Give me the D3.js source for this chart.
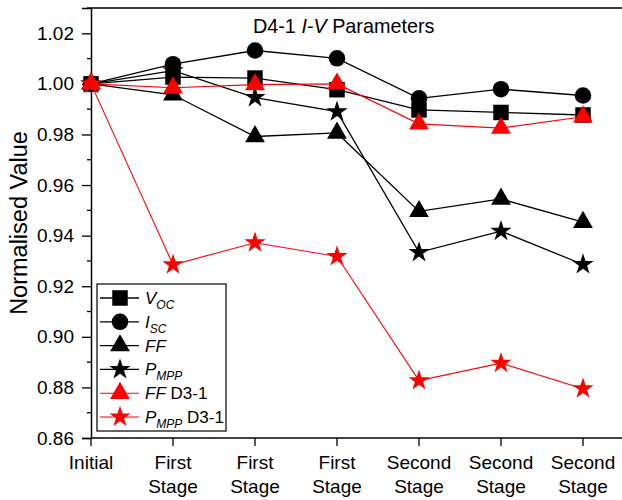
<!DOCTYPE html>
<html>
<head>
<meta charset="utf-8">
<script src="https://cdn.jsdelivr.net/npm/d3@7"></script>
<style>
  body { margin: 0; background: #fff; }
  text { font-family: "Liberation Sans", Arial, sans-serif; }
</style>
</head>
<body>
<div id="chart"></div>
<script>
// stages along x
var stageTop = ["Initial", "First", "First", "First", "Second", "Second", "Second"];
var stageBottom = ["", "Stage", "Stage", "Stage", "Stage", "Stage", "Stage"];
var yTicks = [0.86, 0.88, 0.90, 0.92, 0.94, 0.96, 0.98, 1.00, 1.02];

// series values
var voc = [1.000, 1.0027, 1.0023, 0.9977, 0.9897, 0.9887, 0.9877];
var isc = [1.000, 1.0078, 1.0132, 1.0101, 0.9943, 0.9979, 0.9954];
var ff = [1.000, 0.9957, 0.9792, 0.9806, 0.9496, 0.9545, 0.9453];
var pmpp = [1.000, 1.0052, 0.9946, 0.9890, 0.9334, 0.9418, 0.9286];
var ffD3 = [1.000, 0.9985, 0.9997, 1.0000, 0.9842, 0.9825, 0.9870];
var pmppD3 = [1.000, 0.9285, 0.9372, 0.9318, 0.8827, 0.8896, 0.8795];

var series = [
  { name: "voc", values: voc, color: "#000", symbol: d3.symbolSquare, size: 240, lw: 1.3 },
  { name: "isc", values: isc, color: "#000", symbol: d3.symbolCircle, size: 215, lw: 1.3 },
  { name: "ff", values: ff, color: "#000", symbol: d3.symbolTriangle, size: 170, lw: 1.3 },
  { name: "pmpp", values: pmpp, color: "#000", symbol: d3.symbolStar, size: 140, lw: 1.3 },
  { name: "ffD3", values: ffD3, color: "#ff0000", symbol: d3.symbolTriangle, size: 170, lw: 1.1 },
  { name: "pmppD3", values: pmppD3, color: "#ff0000", symbol: d3.symbolStar, size: 140, lw: 1.1 }
];

var width = 622, height = 500;
var margin = { top: 8, right: 0, bottom: 62, left: 91 };

var svg = d3.select("#chart")
  .append("svg")
  .attr("width", width)
  .attr("height", height);

var x = d3.scaleLinear()
  .domain([0, 1])
  .range([margin.left, margin.left + 82]);

var y = d3.scaleLinear()
  .domain([0.86, 1.03])
  .range([height - margin.bottom, margin.top]);

// y axis with minor ticks
var minor = d3.range(0.87, 1.03, 0.02);
svg.append("g")
  .selectAll("line")
  .data(minor)
  .enter().append("line")
  .attr("x1", margin.left - 4).attr("x2", margin.left)
  .attr("y1", function (d) { return y(d); })
  .attr("y2", function (d) { return y(d); })
  .attr("stroke", "#000").attr("stroke-width", 1.3);

var yAxis = svg.append("g")
  .attr("transform", "translate(" + margin.left + ",0)")
  .call(d3.axisLeft(y).tickValues(yTicks).tickFormat(d3.format(".2f")).tickSize(9).tickPadding(8));
yAxis.select(".domain").attr("stroke-width", 1.5);
yAxis.selectAll(".tick line").attr("stroke-width", 1.3);
yAxis.selectAll("text").attr("font-size", 19).attr("fill", "#000")
  .style("font-family", "'Liberation Sans', Arial, sans-serif");

// x axis
var xAxis = svg.append("g")
  .attr("transform", "translate(0," + y(0.86) + ")");
xAxis.append("line")
  .attr("x1", margin.left).attr("x2", width)
  .attr("y1", 0).attr("y2", 0)
  .attr("stroke", "#000").attr("stroke-width", 1.5);
var xt = xAxis.selectAll(".xtick")
  .data(stageTop)
  .enter().append("g")
  .attr("transform", function (d, i) { return "translate(" + x(i) + ",0)"; });
xt.append("line")
  .attr("y1", 0).attr("y2", 8)
  .attr("stroke", "#000").attr("stroke-width", 1.3);
xt.append("text")
  .attr("y", 31)
  .attr("text-anchor", "middle")
  .attr("font-size", 19)
  .text(function (d) { return d; });
xt.append("text")
  .attr("y", 55)
  .attr("text-anchor", "middle")
  .attr("font-size", 19)
  .text(function (d, i) { return stageBottom[i]; });

// top frame line
svg.append("line")
  .attr("x1", margin.left).attr("x2", width)
  .attr("y1", y(1.03)).attr("y2", y(1.03))
  .attr("stroke", "#000").attr("stroke-width", 1.5);

// y title
svg.append("text")
  .attr("transform", "translate(27," + 223 + ") rotate(-90)")
  .attr("text-anchor", "middle")
  .attr("font-size", 23.5)
  .text("Normalised Value");

// chart title
var title = svg.append("text")
  .attr("x", 253).attr("y", 33)
  .attr("font-size", 19.8);
title.append("tspan").text("D4-1 ");
title.append("tspan").attr("font-style", "italic").text("I-V");
title.append("tspan").text(" Parameters");

// lines and markers
var line = d3.line()
  .x(function (d, i) { return x(i); })
  .y(function (d) { return y(d); });

series.forEach(function (s) {
  svg.append("path")
    .datum(s.values)
    .attr("fill", "none")
    .attr("stroke", s.color)
    .attr("stroke-width", s.lw)
    .attr("d", line);
  svg.append("g")
    .selectAll("path")
    .data(s.values)
    .enter().append("path")
    .attr("transform", function (d, i) { return "translate(" + x(i) + "," + y(d) + ")"; })
    .attr("d", d3.symbol().type(s.symbol).size(s.size))
    .attr("fill", s.color);
});

// legend
var legendLabels = [
  { main: "V", sub: "OC", extra: "" },
  { main: "I", sub: "SC", extra: "" },
  { main: "FF", sub: "", extra: "" },
  { main: "P", sub: "MPP", extra: "" },
  { main: "FF", sub: "", extra: " D3-1" },
  { main: "P", sub: "MPP", extra: " D3-1" }
];

var legend = svg.append("g").attr("transform", "translate(97,284)");
legend.append("rect")
  .attr("width", 129).attr("height", 147)
  .attr("fill", "#fff")
  .attr("stroke", "#000").attr("stroke-width", 1.2);

series.forEach(function (s, i) {
  var ly = 14 + i * 23.8;
  var row = legend.append("g").attr("transform", "translate(0," + ly + ")");
  row.append("line")
    .attr("x1", 3).attr("x2", 42)
    .attr("stroke", s.color).attr("stroke-width", s.lw);
  row.append("path")
    .attr("transform", "translate(23,0)")
    .attr("d", d3.symbol().type(s.symbol).size(s.size))
    .attr("fill", s.color);
  var t = row.append("text")
    .attr("x", 48).attr("y", 6)
    .attr("font-size", 17);
  t.append("tspan").attr("font-style", "italic").text(legendLabels[i].main);
  if (legendLabels[i].sub) {
    t.append("tspan").attr("font-style", "italic").attr("font-size", 12)
      .attr("dy", 5).text(legendLabels[i].sub);
  }
  if (legendLabels[i].extra) {
    t.append("tspan").attr("dy", legendLabels[i].sub ? -5 : 0).text(legendLabels[i].extra);
  }
});
</script>
</body>
</html>
